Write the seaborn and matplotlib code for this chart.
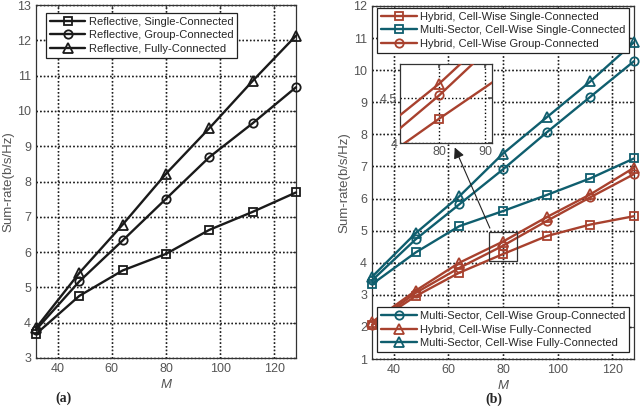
import matplotlib
matplotlib.use("Agg")
import matplotlib.pyplot as plt
from matplotlib.patches import Rectangle
import seaborn as sns

sns.set_theme(style="white")
plt.rcParams["font.family"] = ["Liberation Sans", "DejaVu Sans"]

# ── data ──
M = [32, 48, 64, 80, 96, 112, 128]

refl_single = [3.68, 4.76, 5.48, 5.95, 6.63, 7.14, 7.69]
refl_group = [3.80, 5.17, 6.33, 7.51, 8.69, 9.65, 10.67]
refl_fully = [3.85, 5.41, 6.78, 8.22, 9.51, 10.85, 12.13]

hyb_single = [2.05, 2.96, 3.69, 4.27, 4.83, 5.19, 5.45]
ms_single = [3.33, 4.32, 5.14, 5.61, 6.11, 6.63, 7.25]
hyb_group = [2.07, 3.06, 3.84, 4.53, 5.30, 6.04, 6.76]
ms_group = [3.45, 4.73, 5.82, 6.91, 8.06, 9.17, 10.28]
hyb_fully = [2.15, 3.13, 4.00, 4.66, 5.42, 6.13, 6.96]
ms_fully = [3.56, 4.92, 6.07, 7.40, 8.53, 9.65, 10.87]

left_labels = ["Reflective, Single-Connected", "Reflective, Group-Connected",
               "Reflective, Fully-Connected"]
right_top_labels = ["Hybrid, Cell-Wise Single-Connected",
                    "Multi-Sector, Cell-Wise Single-Connected",
                    "Hybrid, Cell-Wise Group-Connected"]
right_bot_labels = ["Multi-Sector, Cell-Wise Group-Connected",
                    "Hybrid, Cell-Wise Fully-Connected",
                    "Multi-Sector, Cell-Wise Fully-Connected"]

RED = "#a8412e"
TEAL = "#0f5e6e"
BLACK = "#1a1a1a"
TICK = "#555555"

fig = plt.figure(figsize=(6.4, 4.07), dpi=100)
ax_a = fig.add_axes([36 / 640, 49 / 407, 260 / 640, 353 / 407])
ax_b = fig.add_axes([372 / 640, 48 / 407, 262 / 640, 353 / 407])


def draw(ax, y, marker, color, ms=6, clip=False):
    sns.lineplot(x=M, y=y, ax=ax, color=color, marker=marker, markersize=ms,
                 markerfacecolor="none", markeredgecolor=color, markeredgewidth=1.3,
                 linewidth=1.7, legend=False, clip_on=clip, zorder=3)


def add_grid(ax):
    ax.grid(True, linestyle=":", color="black", linewidth=1.0)
    for v in ax.get_xticks():
        ax.axvline(v, linestyle=":", color="#222222", linewidth=1.0,
                   clip_on=False, zorder=2.5)
    for v in ax.get_yticks():
        ax.axhline(v, linestyle=":", color="#222222", linewidth=1.0,
                   clip_on=False, zorder=2.5)


def style_axes(ax, xlim, ylim, yticks):
    ax.set_xlim(*xlim)
    ax.set_ylim(*ylim)
    ax.set_xticks([40, 60, 80, 100, 120])
    ax.set_yticks(yticks)
    ax.tick_params(direction="in", length=3, top=True, right=True,
                   labelsize=9, colors=TICK, width=0.8)
    for s in ax.spines.values():
        s.set_color("#333333")
        s.set_linewidth(0.9)
    ax.set_xlabel("M", style="italic", fontsize=9.5, color=TICK, labelpad=3)
    ax.set_ylabel("Sum-rate(b/s/Hz)", fontsize=9.5, color=TICK, labelpad=2)
    add_grid(ax)


def make_legend(ax, handles, labels, loc, anchor):
    leg = ax.legend(handles, labels, loc=loc, bbox_to_anchor=anchor,
                    fontsize=8.0, handlelength=3.2, fancybox=False,
                    framealpha=1, edgecolor="#222222", borderpad=0.35,
                    labelspacing=0.3, handletextpad=0.3, borderaxespad=0)
    leg.get_frame().set_linewidth(0.9)
    return leg


# ── (a) ──
draw(ax_a, refl_single, "s", BLACK)
draw(ax_a, refl_group, "o", BLACK)
draw(ax_a, refl_fully, "^", BLACK, ms=7)
lines_a = ax_a.get_lines()[:3]
style_axes(ax_a, (32, 128), (3, 13), range(3, 14))
make_legend(ax_a, lines_a, left_labels, "upper left", (0.038, 0.977))

# ── (b) ──
draw(ax_b, hyb_single, "s", RED)
draw(ax_b, ms_single, "s", TEAL)
draw(ax_b, hyb_group, "o", RED)
draw(ax_b, ms_group, "o", TEAL)
draw(ax_b, hyb_fully, "^", RED, ms=7)
draw(ax_b, ms_fully, "^", TEAL, ms=7)
lines_b = ax_b.get_lines()[:6]
style_axes(ax_b, (32, 128), (1, 12), range(1, 13))
leg1 = make_legend(ax_b, lines_b[:3], right_top_labels, "upper left", (0.02, 0.994))
ax_b.add_artist(leg1)
make_legend(ax_b, lines_b[3:6], right_bot_labels, "lower left", (0.02, 0.02))

# zoom box and arrow
ax_b.add_patch(Rectangle((75, 4.05), 10, 0.9, fill=False, edgecolor="#333333",
                         linewidth=0.9, zorder=5))
ax_b.annotate("", xy=(61.9, 7.67), xytext=(75.6, 5.0),
              arrowprops=dict(arrowstyle="-|>", color="#222222", lw=0.8,
                              mutation_scale=16), zorder=6)

# inset
ax_in = fig.add_axes([400 / 640, 264 / 407, 92 / 640, 79 / 407])
draw(ax_in, hyb_single, "s", RED, clip=True)
draw(ax_in, hyb_group, "o", RED, clip=True)
draw(ax_in, hyb_fully, "^", RED, ms=7, clip=True)
ax_in.set_xlim(71.5, 91.5)
ax_in.set_ylim(4.0, 4.88)
ax_in.set_xticks([80, 90])
ax_in.set_yticks([4, 4.5])
ax_in.set_yticklabels(["4", "4.5"])
ax_in.tick_params(direction="in", length=3, top=True, right=True,
                  labelsize=9, colors=TICK, pad=2)
for s in ax_in.spines.values():
    s.set_color("#333333")
    s.set_linewidth(0.9)
ax_in.grid(True, linestyle=":", color="black", linewidth=1.0)

# captions
ax_a.text(0.104, -0.113, "(a)", transform=ax_a.transAxes,
          family=["Liberation Serif", "DejaVu Serif"], fontweight="bold",
          fontsize=10, ha="center", va="center")
ax_b.text(0.466, -0.113, "(b)", transform=ax_b.transAxes,
          family=["Liberation Serif", "DejaVu Serif"], fontweight="bold",
          fontsize=10, ha="center", va="center")

fig.savefig("out.png", dpi=100)
